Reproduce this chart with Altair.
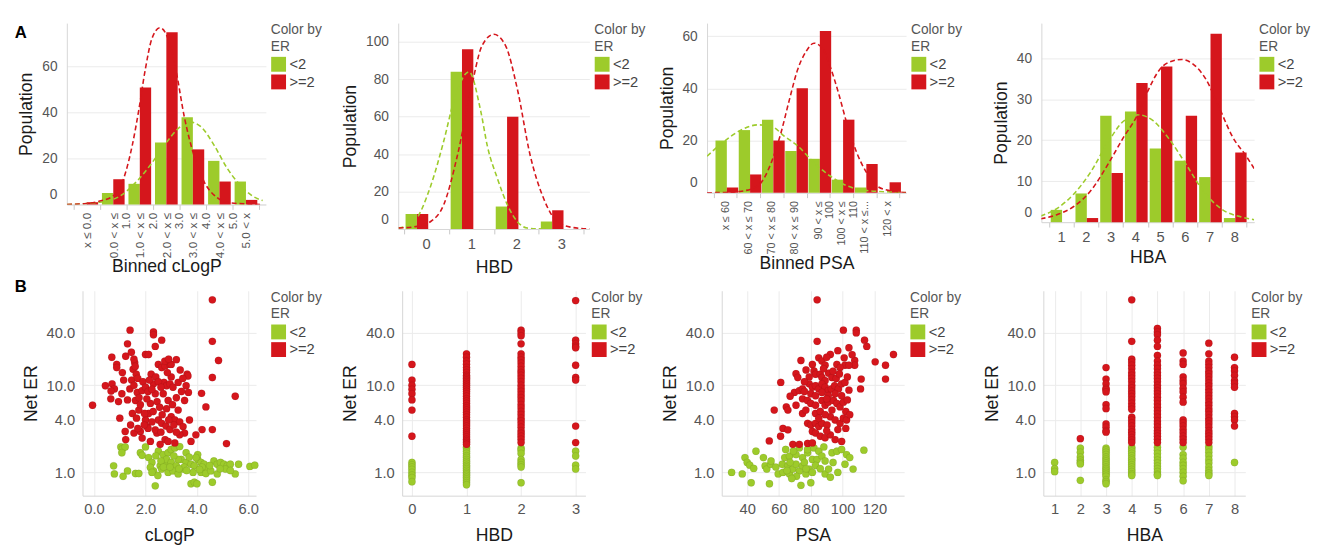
import altair as alt
import pandas as pd

GREEN = "#9DCB2B"
RED = "#D5161C"
GROUPS = ["<2", ">=2"]

# ---------------- Row A: histograms ----------------
clogp_bins = ["x ≤ 0.0", "0.0 < x ≤|1.0", "1.0 < x ≤|2.0", "2.0 < x ≤|3.0",
              "3.0 < x ≤|4.0", "4.0 < x ≤|5.0", "5.0 < x"]
clogp_lt2 = [0, 5, 9, 27, 38, 19, 10]
clogp_ge2 = [1, 11, 51, 75, 24, 10, 2]
clogp_fit_lt2_x = [-0.74, 0.49, 1.23, 1.96, 2.45, 2.94, 3.44, 3.87, 4.29, 4.79, 5.28, 5.77, 6.26, 6.63]
clogp_fit_lt2_y = [0, 1, 3.5, 11, 18, 26, 33, 36, 34, 26, 16, 8.6, 3.6, 1.7]
clogp_fit_ge2_x = [-0.74, 0, 0.49, 0.98, 1.35, 1.72, 1.96, 2.21, 2.45, 2.76, 3.07, 3.37, 3.68, 4.05, 4.42, 4.91, 5.4, 6.63]
clogp_fit_ge2_y = [0, 0.4, 1.5, 3.6, 10, 26, 41, 59, 72, 77, 72, 58, 38, 21, 10, 3, 0.7, 0]

hbd_bins = ["0", "1", "2", "3"]
hbd_lt2 = [8, 84, 12, 4]
hbd_ge2 = [8, 96, 60, 10]
hbd_fit_lt2_x = [-0.61, -0.27, 0.1, 0.39, 0.61, 0.95, 1.21, 1.36, 1.58, 1.8, 2.02, 2.24, 2.61]
hbd_fit_lt2_y = [0.5, 4, 23, 47, 68, 84, 63, 44, 27, 13, 4, 0.5, 0]
hbd_fit_ge2_x = [-0.61, -0.2, 0.1, 0.39, 0.69, 0.99, 1.24, 1.5, 1.76, 2.02, 2.31, 2.61, 2.9, 3.2, 3.64]
hbd_fit_ge2_y = [0.5, 1.4, 4, 13, 39, 74, 98, 104, 98, 75, 39, 16, 4, 1, 0]

psa_bins = ["x ≤ 60", "60 < x ≤ 70", "70 < x ≤ 80", "80 < x ≤ 90", "90 < x ≤|100",
            "100 < x ≤|110", "110 < x ≤...", "120 < x"]
psa_lt2 = [20, 24, 28, 16, 13, 5, 2, 0]
psa_ge2 = [2, 7, 20, 40, 62, 28, 11, 4]
psa_fit_lt2_x = [-0.78, 0, 0.57, 1.41, 2.0, 2.55, 3.11, 3.82, 4.5, 5.23, 5.94, 6.8, 7.78]
psa_fit_lt2_y = [14, 20, 23.5, 26, 25.4, 21.6, 18, 11.5, 6.5, 2.7, 1, 0.4, 0]
psa_fit_ge2_x = [-0.78, 0, 0.71, 1.41, 1.98, 2.4, 2.76, 3.11, 3.47, 3.82, 4.24, 4.53, 4.88, 5.23, 5.66, 6.08, 6.51, 7.07, 7.78]
psa_fit_ge2_y = [0, 0.1, 0.6, 2.7, 11.5, 23, 35.6, 47, 54, 57.3, 54.6, 48, 38, 26.7, 15.3, 7.7, 2.7, 0.8, 0.1]

hba_bins = ["1", "2", "3", "4", "5", "6", "7", "8"]
hba_lt2 = [3, 7, 26, 27, 18, 15, 11, 1]
hba_ge2 = [0, 1, 12, 34, 38, 26, 46, 17]
hba_fit_lt2_x = [-0.83, -0.13, 0.53, 1.2, 1.87, 2.53, 3.13, 3.73, 4.4, 5.07, 5.73, 6.53, 7.33, 7.8]
hba_fit_lt2_y = [1.5, 3.5, 7, 12.3, 19.3, 24.7, 26.2, 24.7, 20, 13.9, 7.7, 3, 1.2, 0.6]
hba_fit_ge2_x = [-0.83, -0.13, 0.53, 1.2, 1.87, 2.53, 3.07, 3.47, 4.0, 4.47, 4.87, 5.33, 5.87, 6.4, 6.93, 7.47, 7.8]
hba_fit_ge2_y = [0.8, 1.9, 3.9, 7.7, 13.9, 20.8, 26, 31.6, 37.4, 39.3, 39.7, 38.6, 34.7, 27.8, 20.8, 16.2, 13.1]

# ---------------- Row B: scatter plots (Net ER) ----------------
clogp_red = [[4.6, 96], [4.6, 32], [4.84, 19.3], [4.6, 12.3], [5.49, 7.5], [5.15, 2.14], [4.6, 3.1],
             [4.18, 8.1], [4.35, 5.65], [4.2, 3.1], [3.96, 2.7], [3.77, 2.27], [-0.06, 5.9], [0.44, 9.9],
             [0.69, 21], [0.88, 17.4], [0.88, 16], [0.7, 10.4], [0.79, 9.1], [0.66, 8.6], [1.08, 8.0],
             [1.0, 4.2], [1.23, 21.6], [1.3, 30], [1.4, 43], [1.21, 2.95], [1.23, 2.38], [1.3, 6.8],
             [1.39, 9.1], [1.46, 11.5], [1.52, 15.3], [1.58, 18.2], [1.64, 13.4], [1.68, 8.3], [1.61, 6.7],
             [1.74, 5.2], [1.8, 2.95], [1.87, 2.48], [2.0, 22.6], [2.12, 22.6], [2.31, 41], [2.31, 38],
             [2.38, 28], [2.22, 13.4], [2.31, 10.4], [2.38, 8.0], [2.19, 6.2], [2.12, 4.75], [2.0, 4.0],
             [2.06, 3.36], [2.44, 2.83], [2.63, 33], [2.5, 17.4], [2.63, 16], [2.76, 16.7], [2.95, 17.4],
             [3.0, 17.4], [3.2, 19.7], [2.72, 10.8], [2.82, 9.9], [2.95, 10.4], [3.07, 9.5], [3.27, 10.8],
             [2.69, 8.0], [2.88, 6.7], [2.82, 5.4], [3.0, 4.36], [3.14, 4.0], [3.33, 3.8], [3.46, 3.36],
             [2.76, 2.38], [2.88, 2.27], [2.5, 4.0], [2.63, 3.66], [2.25, 3.8], [2.38, 3.08], [3.27, 5.2],
             [3.62, 13.4], [3.65, 12.8], [3.58, 9.9], [3.67, 8.3], [3.52, 6.7], [3.71, 4.0], [3.52, 2.83],
             [3.33, 2.7], [3.14, 2.18], [2.57, 2.1], [2.19, 2.27], [1.87, 8.7], [1.8, 6.0], [1.96, 4.75],
             [1.49, 4.75], [1.42, 3.5], [1.55, 2.83], [1.6, 16.5], [1.7, 12], [1.9, 11], [2.0, 9.5],
             [2.1, 8.5], [1.55, 10], [1.75, 7.2], [2.05, 7], [2.25, 9], [2.15, 11.5], [2.4, 12.5], [2.5, 11],
             [2.6, 9.5], [2.45, 6.5], [2.55, 5.6], [2.3, 5.0], [2.1, 3.2], [1.95, 3.5], [1.7, 3.2],
             [1.65, 4.2], [2.65, 4.6], [2.8, 3.4], [2.95, 3.1], [3.1, 3.5], [3.2, 2.9], [2.6, 2.9],
             [2.9, 4.0], [3.05, 6.0], [3.2, 7.2], [3.4, 8.5], [3.0, 12.5], [2.85, 14], [3.35, 15],
             [3.45, 12], [2.75, 19], [2.9, 20], [0.95, 6.5], [0.65, 7.0], [1.15, 11.5], [1.1, 14],
             [1.45, 24], [1.55, 20]]
clogp_green = [[0.76, 1.19], [0.79, 0.96], [1.13, 0.9], [1.3, 1.04], [1.61, 0.97], [1.74, 0.97], [1.04, 1.96],
               [1.1, 1.86], [1.21, 1.96], [1.08, 1.68], [1.8, 1.68], [2.0, 1.96], [1.87, 1.57], [2.12, 1.48],
               [2.25, 1.3], [2.31, 1.04], [2.38, 0.7], [2.48, 0.92], [2.57, 1.19], [2.63, 1.09], [2.76, 1.24],
               [2.5, 1.75], [2.69, 1.6], [2.88, 1.68], [3.0, 1.83], [3.14, 1.91], [3.33, 1.98], [2.82, 1.41],
               [3.0, 1.3], [3.2, 1.19], [3.39, 1.41], [3.58, 1.3], [2.88, 1.0], [3.07, 1.04], [3.27, 0.96],
               [3.46, 1.09], [3.58, 1.68], [3.77, 1.24], [3.9, 1.19], [4.03, 1.41], [4.16, 1.3], [4.28, 1.24],
               [4.41, 1.09], [3.77, 0.74], [3.9, 0.77], [4.0, 0.74], [4.16, 1.0], [4.35, 0.97], [4.54, 1.04],
               [4.6, 0.77], [4.66, 1.35], [4.79, 1.24], [4.92, 1.3], [5.05, 1.24], [5.18, 1.19], [5.3, 1.24],
               [4.79, 0.96], [5.11, 1.09], [5.49, 0.96], [5.62, 1.24], [6.06, 1.17], [6.25, 1.21], [4.03, 1.6],
               [3.96, 1.48], [2.19, 1.14], [2.25, 1.0], [3.27, 1.41], [2.4, 1.55], [2.6, 1.35], [2.7, 1.15],
               [3.1, 1.55], [3.5, 1.15], [3.7, 1.5], [4.2, 1.15], [4.5, 1.2], [3.85, 1.0], [3.3, 1.1],
               [2.95, 1.15], [4.1, 1.08], [4.9, 1.1], [5.3, 1.05], [3.6, 1.05]]

hbd_values = [0, 1, 2, 3]
hbd_er_red = [[17.4, 11.5, 10.0, 9.0, 8.0, 6.8, 5.2, 2.6],
              [23, 21, 19, 17.5, 16, 15, 14, 13, 12.5, 12, 11.5, 11, 10.5, 10, 9.5, 9, 8.5, 8, 7.5, 7,
               6.6, 6.2, 5.8, 5.5, 5.2, 4.9, 4.6, 4.3, 4.0, 3.8, 3.6, 3.4, 3.2, 3.0, 2.85, 2.7, 2.55,
               2.4, 2.3, 2.2, 2.1],
              [43, 40, 37, 30, 23, 21, 19.5, 18, 16.5, 15, 14, 13, 12, 11, 10, 9.2, 8.5, 7.8, 7.2, 6.6,
               6.0, 5.5, 5.0, 4.6, 4.2, 3.9, 3.6, 3.3, 3.0, 2.8, 2.6, 2.4, 2.2],
              [94, 33, 30, 28, 27, 17, 12.3, 11.5, 3.4, 2.2]]
hbd_er_green = [[1.3, 1.22, 1.15, 1.08, 1.0, 0.93, 0.87, 0.78],
                [1.95, 1.85, 1.75, 1.65, 1.55, 1.48, 1.4, 1.33, 1.27, 1.2, 1.15, 1.1, 1.05, 1.0, 0.96,
                 0.92, 0.88, 0.84, 0.8, 0.76, 0.72],
                [1.9, 1.8, 1.65, 1.4, 1.3, 1.22, 1.15, 0.76],
                [1.75, 1.54, 1.21, 1.09]]

psa_red = [[84, 96], [84, 32], [100.5, 43], [108.6, 43], [108.6, 40], [113.8, 33], [115.2, 28], [132, 22.6],
           [120.5, 18.6], [127, 17], [127, 11.8], [111.7, 11.8], [111.3, 9.1], [107.6, 19.3], [107.6, 17],
           [101, 20.7], [101.5, 17], [92.3, 22.6], [96.4, 17.4], [98.4, 16], [73.8, 19.3], [70.7, 13.6],
           [71.8, 12.3], [61.1, 10.8], [69.7, 8.3], [72.8, 8.7], [74.8, 9.1], [81, 17.4], [82, 14.6],
           [83, 13.4], [86, 13.4], [87, 12.3], [89, 11.3], [91.2, 13.8], [93.3, 12.3], [79, 10.4], [81, 9.5],
           [83, 9.9], [85, 9.1], [87, 10.4], [89, 9.5], [91, 8.7], [93, 9.1], [95, 9.9], [97.4, 9.1],
           [99.4, 10.4], [101.5, 10.8], [74.8, 7], [77.9, 6.7], [80, 6.2], [83, 5.9], [87, 6.7], [89, 5.9],
           [91, 6.4], [94.3, 6.7], [96.4, 6.2], [98.4, 5.65], [100.5, 6.4], [64.6, 5.65], [65.6, 5.2],
           [70.7, 5.9], [57, 5.2], [62.5, 3.2], [65.6, 3.08], [61, 2.6], [53.9, 2.3], [78, 3.66], [80, 3.5],
           [83, 3.66], [85, 3.36], [87, 3.66], [90.2, 3.5], [92.3, 4.36], [95.3, 4.0], [98.4, 3.66],
           [100.5, 4.2], [102.5, 4.0], [81, 2.95], [83, 2.83], [86, 2.6], [89, 2.5], [92.3, 2.7],
           [95.3, 2.38], [99.4, 2.27], [68.7, 2.1], [72.8, 2.1], [78, 2.15], [81, 2.18], [74.8, 4.75],
           [76.9, 5.2], [83, 4.75], [86, 5.0], [89, 4.6], [93.3, 5.2], [80, 8], [83, 7.6], [87, 8.3],
           [91, 7.6], [95.3, 8], [99.4, 7.6], [85, 20.7], [87, 19], [89, 17], [103, 12.5], [104, 8.8],
           [103, 6.8], [102, 5.0], [96, 12], [79, 12.5], [77, 15], [76, 11], [88, 15.5], [90, 21],
           [94, 14.5], [90, 3.0], [97, 3.1], [85, 4.2], [102, 3.2], [104.5, 4.6], [67, 7.5], [76, 8.5],
           [90, 7.0], [98, 13.5], [104, 17], [106, 22.5], [104, 27], [97, 25]]
psa_green = [[30.2, 1.0], [36.9, 0.96], [38.6, 1.48], [40, 1.3], [41.6, 1.21], [44.1, 1.11], [42.5, 0.76],
             [45.5, 1.75], [50.2, 1.48], [51.3, 1.19], [52.3, 1.09], [54.8, 1.24], [54, 0.74], [59.5, 0.96],
             [62.1, 1.24], [62.5, 1.0], [63.6, 1.48], [64.2, 1.83], [65.6, 1.19], [66.6, 0.96], [68.7, 1.09],
             [70.7, 1.24], [72.8, 1.04], [74.8, 1.19], [76.9, 0.96], [79, 1.09], [81, 1.0], [73.8, 0.71],
             [80, 0.76], [66.6, 1.54], [70.7, 1.6], [74.8, 1.48], [78, 1.68], [81, 1.41], [72.8, 1.91],
             [78, 1.83], [82, 1.91], [85, 1.75], [88.2, 1.96], [84, 1.41], [87, 1.54], [89, 1.35], [89, 0.96],
             [91.2, 1.09], [92.3, 0.88], [93.3, 1.68], [96.4, 1.75], [99.4, 1.83], [102.5, 1.6], [104.5, 1.48],
             [101.5, 1.24], [106.6, 1.09], [113.4, 1.8], [55, 1.35], [67, 1.3], [69, 1.75], [76, 1.3],
             [83, 1.2], [86, 1.1], [77, 1.1], [71, 0.9], [65, 1.05], [58, 1.15], [94, 1.3], [97, 1.0], [68, 0.85]]

hba_values = [1, 2, 3, 4, 5, 6, 7, 8]
hba_er_red = [[],
              [2.44],
              [16, 11.8, 10.4, 9.2, 8.9, 8.4, 6.0, 5.4, 3.6, 3.3, 3.0, 2.9],
              [96, 32, 20, 18.5, 17, 15.5, 14, 13, 12, 11, 10, 9.3, 8.6, 8, 7.4, 6.8, 6.2, 5.7, 5.3,
               4.3, 4.0, 3.7, 3.4, 3.1, 2.9, 2.7, 2.5, 2.35, 2.2],
              [45, 41, 38, 33, 28, 22, 19, 17, 15.5, 14, 13, 12, 11, 10, 9.3, 8.6, 8, 7.3, 6.7, 6.1, 5.6,
               5.1, 4.7, 4.3, 3.9, 3.6, 3.3, 3.0, 2.8, 2.6, 2.4, 2.2],
              [23.5, 19, 17.4, 12.5, 11.3, 10.4, 9.2, 8.4, 7.3, 6.4, 4.0, 3.7, 3.4, 3.1, 2.85, 2.6, 2.4, 2.2],
              [30.5, 23, 19, 17.5, 16, 14.5, 13.5, 12.5, 11.5, 10.6, 9.8, 9, 8.3, 7.6, 7, 6.4, 5.9, 5.4,
               5.0, 4.6, 4.2, 3.9, 3.6, 3.3, 3.0, 2.8, 2.6, 2.4, 2.2],
              [21, 16, 14.6, 13, 11.3, 10.5, 9.5, 4.75, 4.36, 4.0, 3.4]]
hba_er_green = [[1.3, 1.1, 1.02],
                [1.9, 1.7, 1.5, 1.38, 1.3, 1.25, 0.81],
                [1.9, 1.8, 1.7, 1.6, 1.5, 1.42, 1.35, 1.28, 1.22, 1.15, 1.1, 1.05, 1.0, 0.95, 0.9, 0.82,
                 0.78, 0.74],
                [1.95, 1.85, 1.75, 1.65, 1.55, 1.45, 1.38, 1.3, 1.22, 1.15, 1.08, 1.02, 0.96, 0.92],
                [1.95, 1.8, 1.65, 1.5, 1.38, 1.28, 1.18, 1.1, 1.02, 0.95, 0.92],
                [1.95, 1.6, 1.45, 1.3, 1.2, 1.1, 1.0, 0.9, 0.8],
                [1.98, 1.85, 1.7, 1.55, 1.4, 1.28, 1.15, 1.05, 0.98, 0.92],
                [1.3]]


def legend(offset=5):
    return alt.Legend(title=["Color by", "ER"], symbolType="square", symbolSize=230,
                      symbolStrokeWidth=0, symbolOpacity=1, offset=offset)


def color_enc(offset=5):
    return alt.Color("grp:N", scale=alt.Scale(domain=GROUPS, range=[GREEN, RED]), legend=legend(offset))


def panel_letter(letter, dx, dy):
    return alt.Chart(pd.DataFrame({"t": [letter]})).mark_text(
        fontWeight="bold", fontSize=17, align="left", baseline="middle", color="#000"
    ).encode(text="t:N", x=alt.value(dx), y=alt.value(dy))


def spacer():
    return alt.Chart(pd.DataFrame({"t": [""]})).mark_text(fontSize=8).encode(
        text="t:N", x=alt.value(0), y=alt.value(30)).properties(width=1, height=1)


def hist_panel(cats, lt2, ge2, gx, gy, rx, ry, W, H, po, opad, ymax, yticks, xtitle, angle, lsize,
               title_pad, letter=None):
    n = len(cats)
    df = pd.DataFrame({"cat": cats + cats, "grp": [GROUPS[0]] * n + [GROUPS[1]] * n,
                       "count": lt2 + ge2})
    bars = alt.Chart(df).mark_bar().encode(
        x=alt.X("cat:N", sort=cats, scale=alt.Scale(paddingInner=0, paddingOuter=po),
                axis=alt.Axis(title=xtitle, labelAngle=angle, labelFontSize=lsize, tickBand="extent",
                              grid=False, ticks=True, tickSize=5, labelPadding=3,
                              labelExpr="split(datum.label, '|')", titlePadding=title_pad,
                              labelLineHeight=lsize + 1)),
        xOffset=alt.XOffset("grp:N", sort=GROUPS, scale=alt.Scale(paddingInner=0, paddingOuter=opad)),
        y=alt.Y("count:Q", scale=alt.Scale(domain=[0, ymax], nice=False),
                axis=alt.Axis(title="Population", values=yticks, labelFlush=True, labelFlushOffset=-3,
                              grid=True, ticks=False)),
        color=color_enc(),
    )
    xscale = alt.Scale(domain=[-0.5 - po, n - 0.5 + po], nice=False, zero=False)

    def curve(xs, ys, col):
        cdf = pd.DataFrame({"pos": xs, "count": ys})
        return alt.Chart(cdf).mark_line(color=col, strokeDash=[5, 3], strokeWidth=1.6,
                                        interpolate="monotone", clip=True).encode(
            x=alt.X("pos:Q", scale=xscale, axis=None), y=alt.Y("count:Q"))

    layers = [bars, curve(gx, gy, GREEN), curve(rx, ry, RED)]
    if letter:
        layers.append(panel_letter(*letter))
    return alt.layer(*layers).resolve_scale(x="independent").properties(width=W, height=H)


def scatter_panel(green_pts, red_pts, W, H, xdom, xticks, xfmt, xtitle, letter=None, loffset=6):
    xs = [p[0] for p in green_pts] + [p[0] for p in red_pts]
    ys = [p[1] for p in green_pts] + [p[1] for p in red_pts]
    grp = [GROUPS[0]] * len(green_pts) + [GROUPS[1]] * len(red_pts)
    df = pd.DataFrame({"x": xs, "er": ys, "grp": grp})
    pts = alt.Chart(df).mark_circle(size=56, opacity=1, stroke="#00000022", strokeWidth=0.6).encode(
        x=alt.X("x:Q", scale=alt.Scale(domain=xdom, nice=False, zero=False),
                axis=alt.Axis(title=xtitle, values=xticks, format=xfmt, grid=True, ticks=False,
                              labelPadding=6, titlePadding=11, labelFontSize=15)),
        y=alt.Y("er:Q", scale=alt.Scale(type="log", domain=[0.54, 122], nice=False),
                axis=alt.Axis(title="Net ER", values=[1, 4, 10, 40], format=".1f", grid=True,
                              ticks=False, labelFontSize=15, labelPadding=8)),
        color=color_enc(loffset),
    )
    layers = [pts]
    if letter:
        layers.append(panel_letter(*letter))
    return alt.layer(*layers).properties(width=W, height=H)


def discrete_pts(values, lists):
    out = []
    for v, lst in zip(values, lists):
        for e in lst:
            out.append([v, e])
    return out


def hc(*charts, spacing):
    return alt.hconcat(*charts, spacing=spacing).resolve_scale(color="independent")


p1 = hist_panel(clogp_bins, clogp_lt2, clogp_ge2, clogp_fit_lt2_x, clogp_fit_lt2_y,
                clogp_fit_ge2_x, clogp_fit_ge2_y, 203, 185, 0.25, 0.17, 79, [0, 20, 40, 60],
                "Binned cLogP", -90, 12, 0, letter=("A", -53, 10))
p2 = hist_panel(hbd_bins, hbd_lt2, hbd_ge2, hbd_fit_lt2_x, hbd_fit_lt2_y, hbd_fit_ge2_x, hbd_fit_ge2_y,
                195, 210, 0.12, 0.28, 110, [0, 20, 40, 60, 80, 100], "HBD", 0, 15, 7)
p3 = hist_panel(psa_bins, psa_lt2, psa_ge2, psa_fit_lt2_x, psa_fit_lt2_y, psa_fit_ge2_x, psa_fit_ge2_y,
                203, 173, 0.28, 0.35, 65, [0, 20, 40, 60], "Binned PSA", -90, 11, 1)
p4 = hist_panel(hba_bins, hba_lt2, hba_ge2, hba_fit_lt2_x, hba_fit_lt2_y, hba_fit_ge2_x, hba_fit_ge2_y,
                217, 203, 0.3, 0.32, 48.6, [0, 10, 20, 30, 40], "HBA", 0, 15, 4)

b1 = scatter_panel(clogp_green, clogp_red, 177, 209, [-0.45, 6.3], [0, 2, 4, 6], ".1f", "cLogP",
                   letter=("B", -69, -4), loffset=15)
b2 = scatter_panel(discrete_pts(hbd_values, hbd_er_green), discrete_pts(hbd_values, hbd_er_red),
                   187, 209, [-0.18, 3.18], [0, 1, 2, 3], "d", "HBD")
b3 = scatter_panel(psa_green, psa_red, 186, 209, [24, 138.7], [40, 60, 80, 100, 120], "d", "PSA")
b4 = scatter_panel(discrete_pts(hba_values, hba_er_green), discrete_pts(hba_values, hba_er_red),
                   206, 209, [0.56, 8.42], [1, 2, 3, 4, 5, 6, 7, 8], "d", "HBA")

top = hc(spacer(), hc(hc(p1, p2, spacing=19), hc(p3, p4, spacing=30), spacing=12), spacing=0)
bottom = hc(spacer(), hc(hc(b1, b2, spacing=19), hc(b3, b4, spacing=21), spacing=18), spacing=0)

chart = alt.vconcat(top, bottom, spacing=2).resolve_scale(color="independent").configure(
    padding={"left": 6, "top": 10, "right": 0, "bottom": 0},
    font="Liberation Sans",
).configure_axis(
    labelColor="#555", labelFontSize=14, titleColor="#1a1a1a", titleFontSize=18,
    titleFontWeight="normal", gridColor="#ebebeb", domainColor="#d6d6d6", tickColor="#c8c8c8",
).configure_axisY(
    titlePadding=6, labelPadding=10,
).configure_legend(
    titleFontSize=14, titleFontWeight="normal", titleColor="#555", labelFontSize=15,
    labelColor="#444", rowPadding=2, titlePadding=3, padding=0, titleLineHeight=17,
    labelOffset=3,
).configure_view(stroke=None)

chart.save("out.html", embed_options={"renderer": "svg", "actions": False})
